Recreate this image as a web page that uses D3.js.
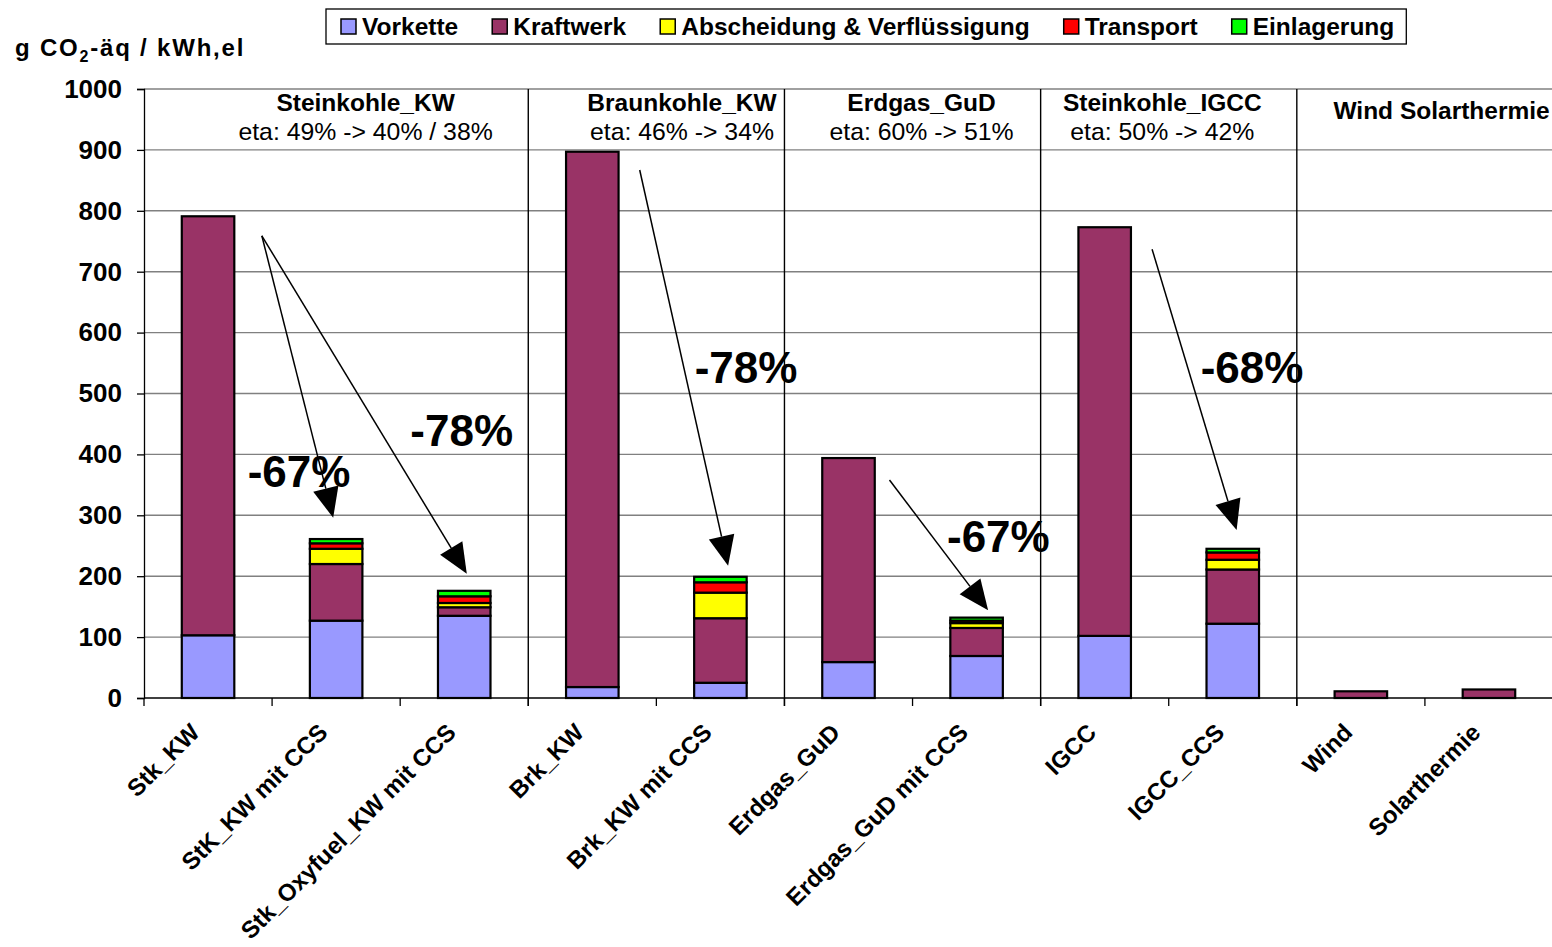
<!DOCTYPE html>
<html><head><meta charset="utf-8">
<script src="https://cdn.jsdelivr.net/npm/d3@7"></script>
<style>
body{margin:0;background:#fff}
svg{display:block}
text{font-family:"Liberation Sans",Arial,sans-serif}
</style>
</head><body>
<svg id="chart" width="1552" height="947"></svg>
<script>
// Treibhausgasemissionen je kWh Strom, gestapelt nach Prozessschritt
const categories = ["Stk_KW","StK_KW mit CCS","Stk_Oxyfuel_KW mit CCS","Brk_KW","Brk_KW mit CCS",
  "Erdgas_GuD","Erdgas_GuD mit CCS","IGCC","IGCC_CCS","Wind","Solarthermie"];
const seriesNames = ["Vorkette","Kraftwerk","Abscheidung & Verflüssigung","Transport","Einlagerung"];
const seriesColors = ["#9999FF","#993366","#FFFF00","#FF0000","#00FF00"];
const vorkette    = [103,127,135, 18, 25, 59, 69,102,122, 0, 0];
const kraftwerk   = [688, 93, 14,879,106,335, 46,671, 89,11,14];
const abscheidung = [  0, 25,  7,  0, 42,  0,  8,  0, 16, 0, 0];
const transport   = [  0,  9, 11,  0, 17,  0,  4,  0, 12, 0, 0];
const einlagerung = [  0,  7,  9,  0,  9,  0,  5,  0,  6, 0, 0];
const yTicks = [0,100,200,300,400,500,600,700,800,900,1000];

// Kraftwerksgruppen: Titel, Wirkungsgrad, Gruppengrenzen (Kategorie-Index)
const groupTitles = ["Steinkohle_KW","Braunkohle_KW","Erdgas_GuD","Steinkohle_IGCC","Wind Solarthermie"];
const groupEta = ["eta: 49% -> 40% / 38%","eta: 46% -> 34%","eta: 60% -> 51%","eta: 50% -> 42%",""];
const groupAnchor = [1.73, 4.2, 6.07, 7.95, 10.13];   // in Kategorie-Einheiten
const groupBoundaries = [3,5,7,9];

// Minderungspfeile (Kategorie-Einheiten, g CO2-äq/kWh)
const arrowFrom = [[0.92,759],[0.92,759],[3.87,867],[5.82,358],[7.87,737]];
const arrowTo   = [[1.477,296],[2.52,204],[4.56,217],[6.59,144],[8.53,276]];
const reductionText = ["-67%","-78%","-78%","-67%","-68%"];
const reductionAt = [[1.21,346],[2.48,414],[4.70,517],[6.67,240],[8.65,517]];

const series = [vorkette,kraftwerk,abscheidung,transport,einlagerung];
const table = categories.map((c,i)=>{const o={cat:c}; seriesNames.forEach((s,k)=>o[s]=series[k][i]); return o;});
const stacked = d3.stack().keys(seriesNames)(table);

const svg = d3.select("#chart");
const pLeft = 144, pRight = 1553, pTop = 89, pBottom = 698;
const x = d3.scaleBand().domain(categories).range([pLeft,pRight]).paddingInner(0).paddingOuter(0);
const bw = x.bandwidth();
const xu = d3.scaleLinear().domain([0,categories.length]).range([pLeft,pRight]);
const y = d3.scaleLinear().domain([0,1000]).range([pBottom,pTop]);

// Gitterlinien
svg.append("g").selectAll("line").data(yTicks.filter(t=>t>0)).join("line")
  .attr("x1",pLeft).attr("x2",pRight).attr("y1",d=>y(d)).attr("y2",d=>y(d))
  .attr("stroke","#808080").attr("stroke-width",1.4);

// Y-Achse
const yAxis = svg.append("g").attr("transform",`translate(${pLeft},0)`)
  .call(d3.axisLeft(y).tickValues(yTicks).tickSize(7).tickPadding(15).tickFormat(d3.format("d")));
yAxis.select(".domain").attr("stroke","#000").attr("stroke-width",1.3);
yAxis.selectAll(".tick line").attr("stroke","#000").attr("stroke-width",1.3);
yAxis.selectAll("text").attr("font-size",26).attr("font-weight","bold")
  .attr("font-family","Liberation Sans, Arial, sans-serif").attr("fill","#000");

// Gruppentrennlinien
svg.append("g").selectAll("line").data(groupBoundaries).join("line")
  .attr("x1",d=>xu(d)).attr("x2",d=>xu(d)).attr("y1",pTop).attr("y2",pBottom+8)
  .attr("stroke","#000").attr("stroke-width",1.4);

// Balken
const barW = bw*0.41;
svg.append("g").selectAll("g").data(stacked).join("g")
  .attr("fill",(d,i)=>seriesColors[i])
  .selectAll("rect").data(d=>d.filter(p=>p[1]-p[0]>0)).join("rect")
  .attr("x",d=>x(d.data.cat)+bw/2-barW/2).attr("width",barW)
  .attr("y",d=>y(d[1])).attr("height",d=>y(d[0])-y(d[1]))
  .attr("stroke","#000").attr("stroke-width",2.2);

// X-Achse
const xAxis = svg.append("g").attr("transform",`translate(0,${pBottom})`);
xAxis.append("line").attr("x1",pLeft).attr("x2",pRight).attr("stroke","#000").attr("stroke-width",1.4);
xAxis.selectAll("line.t").data(d3.range(categories.length+1)).join("line").attr("class","t")
  .attr("x1",d=>xu(d)).attr("x2",d=>xu(d)).attr("y1",0).attr("y2",8)
  .attr("stroke","#000").attr("stroke-width",1.3);
xAxis.selectAll("text").data(categories).join("text")
  .attr("transform",d=>`translate(${x(d)+bw/2-7},${36}) rotate(-45)`)
  .attr("text-anchor","end").attr("font-size",24).attr("font-weight","bold").text(d=>d);

// Gruppentitel
groupTitles.forEach((t,i)=>{
  const hasEta = groupEta[i] !== "";
  svg.append("text").attr("x",xu(groupAnchor[i])).attr("y",hasEta?111:119)
    .attr("text-anchor","middle").attr("font-size",24.5).attr("font-weight","bold").text(t);
  if(hasEta) svg.append("text").attr("x",xu(groupAnchor[i])).attr("y",140)
    .attr("text-anchor","middle").attr("font-size",24.8).text(groupEta[i]);
});

// Pfeile
const ag = svg.append("g");
arrowFrom.forEach((f,i)=>{
  const t = arrowTo[i];
  const x1=xu(f[0]), y1=y(f[1]), x2=xu(t[0]), y2=y(t[1]);
  const dx=x2-x1, dy=y2-y1, L=Math.hypot(dx,dy), ux=dx/L, uy=dy/L;
  const hl=30, hw=13;
  const bx=x2-ux*hl, by=y2-uy*hl;
  ag.append("line").attr("x1",x1).attr("y1",y1).attr("x2",bx).attr("y2",by)
    .attr("stroke","#000").attr("stroke-width",1.5);
  ag.append("path").attr("d",`M${x2},${y2}L${bx-uy*hw},${by+ux*hw}L${bx+uy*hw},${by-ux*hw}Z`).attr("fill","#000");
});
svg.append("g").selectAll("text").data(reductionText).join("text")
  .attr("x",(d,i)=>xu(reductionAt[i][0])).attr("y",(d,i)=>y(reductionAt[i][1]))
  .attr("text-anchor","middle").attr("font-family","Lato, sans-serif").attr("font-weight","bold")
  .attr("font-size",44).attr("fill","#000").text(d=>d);

// Achsentitel
const yt = svg.append("text").attr("x",15).attr("y",56).attr("font-size",24)
  .attr("font-weight","bold").attr("letter-spacing",1.8);
yt.append("tspan").text("g CO");
yt.append("tspan").text("2").attr("font-size",16).attr("dy",6);
yt.append("tspan").text("-äq / kWh,el").attr("dy",-6);

// Legende
const lg = svg.append("g");
const box = lg.append("rect").attr("x",326).attr("y",9).attr("height",35).attr("fill","#fff")
  .attr("stroke","#000").attr("stroke-width",1.3);
let cx = 341;
seriesNames.forEach((s,i)=>{
  lg.append("rect").attr("x",cx).attr("y",19).attr("width",15).attr("height",15)
    .attr("fill",seriesColors[i]).attr("stroke","#000").attr("stroke-width",1.5);
  const tx = lg.append("text").attr("x",cx+21).attr("y",34.5).attr("font-size",24.5)
    .attr("font-weight","bold").text(s);
  cx += 21 + tx.node().getComputedTextLength() + (i<seriesNames.length-1?34:12);
});
box.attr("width",cx-326);
</script>
</body></html>
